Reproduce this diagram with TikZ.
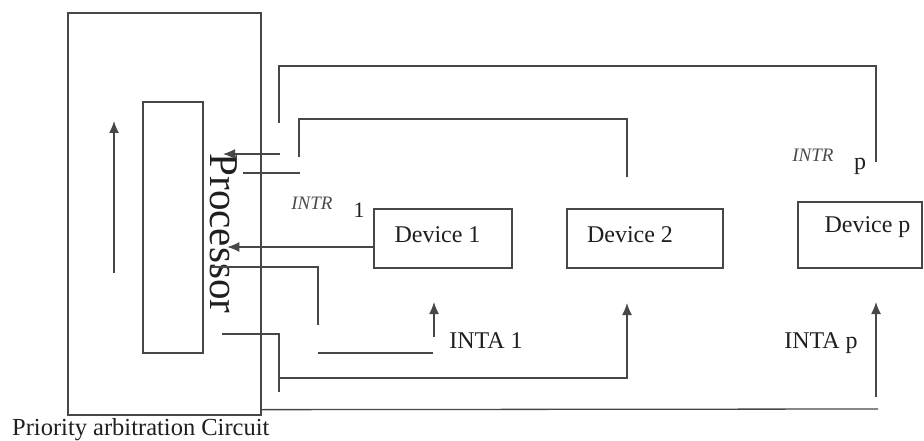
\documentclass[tikz,border=0pt]{standalone}
\usepackage{fontspec}
\setmainfont{Liberation Serif}
\usetikzlibrary{arrows.meta}
\usetikzlibrary{calc}
\tikzset{>={Latex[length=12pt,width=10pt]}}
\colorlet{linecol}{black!72}
\colorlet{textcol}{black!88}
\tikzstyle{wire}=[draw=linecol,line width=1.3pt]
\tikzstyle{box}=[draw=linecol,line width=1.3pt,rectangle,inner sep=0pt]
\tikzstyle{devtxt}=[text=textcol,font=\fontsize{24}{28}\selectfont,inner sep=0pt]
\tikzstyle{sigtxt}=[text=textcol!80,font=\fontsize{19}{22}\selectfont\itshape,inner sep=0pt]

\begin{document}
\begin{tikzpicture}[x=1pt,y=-1pt]
  \useasboundingbox (0,0) rectangle (924,441);

  % arbitration circuit with the processor inside
  \node[box,minimum width=193pt,minimum height=402pt] (arb) at (164.5,214) {};
  \node[box,minimum width=60pt,minimum height=251pt] (proc) at (173,227.5) {};
  \node[devtxt,rotate=-90,font=\fontsize{41}{48}\selectfont] (proctxt) at (223.5,233.5) {Processor};
  \node[devtxt,anchor=west,font=\fontsize{24.5}{28}\selectfont] (arbtxt) at (12,430) {Priority arbitration Circuit};
  \coordinate (up0) at (114,273);
  \coordinate (up1) at (114,121);
  \draw[wire,->] (up0) -- (up1);

  % devices
  \node[box,minimum width=138pt,minimum height=59pt,
    label={[devtxt,xshift=-5.5pt,yshift=3.5pt]center:Device 1}] (dev1) at (443,238.5) {};
  \node[box,minimum width=156pt,minimum height=59pt,
    label={[devtxt,xshift=-15pt,yshift=3.5pt]center:Device 2}] (dev2) at (645,238.5) {};
  \node[box,minimum width=124pt,minimum height=66pt,
    label={[devtxt,xshift=7.5pt,yshift=8pt]center:Device p}] (devp) at (860,235) {};

  % interrupt request lines
  \coordinate (rp0) at (279,123);
  \coordinate (rp1) at (876,162);
  \draw[wire] (rp0) -- ++(0,-57) -| (rp1);
  \coordinate (r20) at (299,157);
  \coordinate (r21) at (627,177);
  \draw[wire] (r20) -- ++(0,-38) -| (r21);
  \coordinate (ra) at (280,154);
  \coordinate (rb) at (223,154);
  \draw[wire,->] (ra) -- (rb);
  \coordinate (rc) at (300,173);
  \coordinate (rd) at (243,173);
  \draw[wire] (rc) -- (rd);
  \draw[wire,->] ([yshift=-8.5pt]dev1.west) -- ++(-146,0);

  % interrupt acknowledge chain
  \coordinate (a10) at (212,267);
  \coordinate (a11) at (318,325);
  \draw[wire] (a10) -| (a11);
  \coordinate (a12) at (318,353);
  \coordinate (a13) at (433,353);
  \draw[wire] (a12) -- (a13);
  \coordinate (a14) at (434,337);
  \draw[wire,->] (a14) -- ++(0,-35);
  \coordinate (a20) at (222,334);
  \coordinate (a21) at (279,392);
  \draw[wire] (a20) -| (a21);
  \coordinate (a22) at (279,378);
  \coordinate (a23) at (627,303);
  \draw[wire,->] (a22) -| (a23);
  \coordinate (ap0) at (878,409);
  \draw[wire] (arb.south east) ++(0,-6) -- (ap0);
  \coordinate (ap1) at (876,397);
  \coordinate (ap2) at (876,302);
  \draw[wire,->] (ap1) -- (ap2);

  % signal names
  \node[sigtxt] (intr1) at (312,203) {INTR};
  \node[devtxt,font=\fontsize{22}{26}\selectfont] (intr1n) at (359,210) {1};
  \node[sigtxt] (intrp) at (813,155) {INTR};
  \node[devtxt] (intrpn) at (860,166) {p};
  \node[devtxt] (inta1) at (486,341) {INTA 1};
  \node[devtxt] (intap) at (821,343.5) {INTA p};
\end{tikzpicture}
\end{document}
